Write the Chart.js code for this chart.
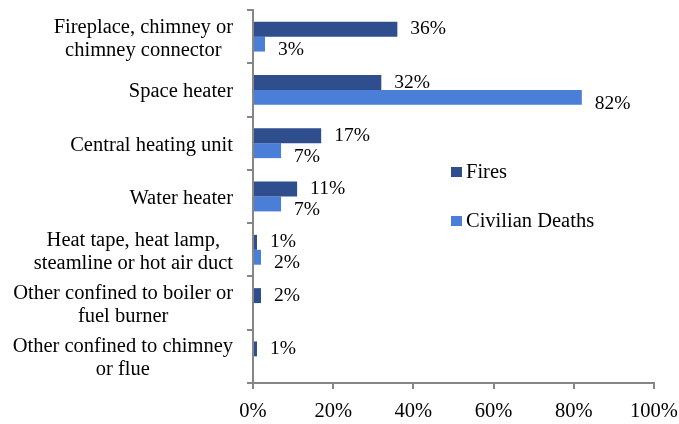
<!DOCTYPE html>
<html lang="en">
<head>
    <meta charset="UTF-8">
    <title>Heating equipment fires and civilian deaths</title>
    <script src="https://cdn.jsdelivr.net/npm/chart.js@4.4.1/dist/chart.umd.min.js"></script>
    <style>
        html, body { margin: 0; padding: 0; background: #fff; }
        #wrap { width: 679px; height: 424px; }
    </style>
</head>
<body>
    <div id="wrap"><canvas id="heating-chart" width="679" height="424"></canvas></div>
    <script>
        // Equipment categories (one array per label, one entry per line)
        const categories = [
            ['Fireplace, chimney or', 'chimney connector'],
            ['Space heater'],
            ['Central heating unit'],
            ['Water heater'],
            ['Heat tape, heat lamp,', 'steamline or hot air duct'],
            ['Other confined to boiler or', 'fuel burner'],
            ['Other confined to chimney', 'or flue']
        ];
        // Share of fires and of civilian deaths, in percent
        const fires = [36, 32, 17, 11, 1, 2, 1];
        const civilianDeaths = [3, 82, 7, 7, 2, null, null];
        const seriesNames = ['Fires', 'Civilian Deaths'];

        const SERIF = '"Liberation Serif", "Times New Roman", serif';
        const FONT = '20.5px ' + SERIF;
        const LABEL_FONT = '19.5px ' + SERIF;
        const AXIS_GREY = '#868686';

        // Multi-line category labels: block right-aligned to the axis, lines centred inside the block
        const categoryLabels = {
            id: 'categoryLabels',
            afterDraw(chart) {
                const ctx = chart.ctx;
                const y = chart.scales.y;
                const right = y.right - 20;
                const lineH = 23;
                ctx.save();
                ctx.font = FONT;
                ctx.fillStyle = '#000';
                ctx.textAlign = 'center';
                ctx.textBaseline = 'middle';
                chart.data.labels.forEach((lines, i) => {
                    const cy = y.getPixelForTick(i) + 2;
                    const w = Math.max(...lines.map(l => ctx.measureText(l).width));
                    const cx = right - w / 2;
                    const top = cy - (lines.length - 1) * lineH / 2;
                    lines.forEach((l, j) => ctx.fillText(l, cx, top + j * lineH));
                });
                ctx.restore();
            }
        };

        // Percentage labels past the end of every bar
        const valueLabels = {
            id: 'valueLabels',
            afterDatasetsDraw(chart) {
                const ctx = chart.ctx;
                ctx.save();
                ctx.font = LABEL_FONT;
                ctx.fillStyle = '#000';
                ctx.textAlign = 'left';
                ctx.textBaseline = 'middle';
                chart.data.datasets.forEach((ds, di) => {
                    const dy = di === 0 ? 0 : 6;
                    chart.getDatasetMeta(di).data.forEach((bar, i) => {
                        const v = ds.data[i];
                        if (v === null) return;
                        ctx.fillText(v + '%', bar.x + 13, bar.y + dy);
                    });
                });
                ctx.restore();
            }
        };

        // Legend floating inside the plot, to the right of the bars
        const sideLegend = {
            id: 'sideLegend',
            afterDraw(chart) {
                const ctx = chart.ctx;
                const x = 451, rows = [172, 221];
                ctx.save();
                ctx.font = FONT;
                ctx.textBaseline = 'middle';
                chart.data.datasets.forEach((ds, i) => {
                    ctx.fillStyle = ds.backgroundColor;
                    ctx.fillRect(x, rows[i] - 5, 11, 10);
                    ctx.fillStyle = '#000';
                    ctx.fillText(ds.label, x + 15, rows[i] + 1);
                });
                ctx.restore();
            }
        };

        new Chart(document.getElementById('heating-chart'), {
            type: 'bar',
            data: {
                labels: categories,
                datasets: [{
                    label: seriesNames[0],
                    data: fires,
                    backgroundColor: '#2f4e8e'
                }, {
                    label: seriesNames[1],
                    data: civilianDeaths,
                    backgroundColor: '#4b7fd7'
                }]
            },
            options: {
                indexAxis: 'y',
                responsive: false,
                animation: false,
                layout: { padding: { top: 10, right: 25, left: 0, bottom: 0 } },
                datasets: {
                    bar: { categoryPercentage: 0.56, barPercentage: 1.0 }
                },
                plugins: {
                    legend: { display: false },
                    tooltip: { enabled: false }
                },
                scales: {
                    x: {
                        min: 0,
                        max: 100,
                        ticks: {
                            stepSize: 20,
                            color: '#000',
                            font: { family: SERIF, size: 20.5 },
                            padding: 10,
                            callback: v => v + '%'
                        },
                        grid: { drawOnChartArea: false, color: AXIS_GREY, lineWidth: 2, tickLength: 6 },
                        border: { color: AXIS_GREY, width: 2 },
                        afterFit: s => { s.height = 41; s.paddingLeft = 0; s.paddingRight = 0; }
                    },
                    y: {
                        ticks: { display: false },
                        grid: { drawOnChartArea: false, color: AXIS_GREY, lineWidth: 2, tickLength: 6, offset: true },
                        border: { color: AXIS_GREY, width: 2 },
                        afterFit: s => { s.width = 253; }
                    }
                }
            },
            plugins: [categoryLabels, valueLabels, sideLegend]
        });
    </script>
</body>
</html>
